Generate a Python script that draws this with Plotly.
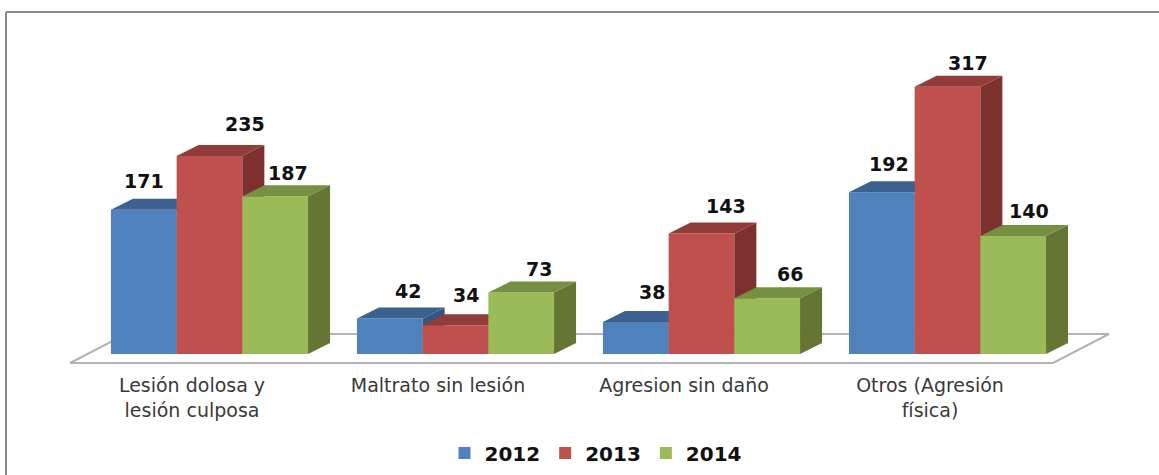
import plotly.graph_objects as go

categories = ["Lesión dolosa y<br>lesión culposa", "Maltrato sin lesión", "Agresion sin daño", "Otros (Agresión<br>física)"]
years = ["2012", "2013", "2014"]
v2012 = [171, 42, 38, 192]
v2013 = [235, 34, 143, 317]
v2014 = [187, 73, 66, 140]
series = [v2012, v2013, v2014]
front_colors = ["#4F81BD", "#C0504D", "#9BBB59"]
top_colors = ["#3C618F", "#923C3A", "#769041"]
side_colors = ["#355680", "#7E302E", "#647534"]

W, H = 1159, 475
PX_PER_GROUP = 246.0
PX_PER_VALUE = 0.843
ORIGIN_PX = 192.0
BASE_PX = 354.0
AXIS_BOTTOM_PX = 372.0
BAR_W = 65.7 / PX_PER_GROUP
SHIFT = 17.5 / PX_PER_GROUP
DX = 22 / PX_PER_GROUP
DY = 11 / PX_PER_VALUE
FLOOR_FRONT = -9 / PX_PER_VALUE
FLOOR_BACK = 20 / PX_PER_VALUE

# label offsets in pixels from the bar's top centre
label_dx = [[0, 35, 13], [18, 10, 18], [16, 24, 23], [7, 20, 16]]
label_dy = [[29, 32, 23], [28, 30, 23], [30, 27, 24], [28, 24, 25]]

fig = go.Figure()

# floor, on the lowest subplot so every bar covers it
fx = [x / PX_PER_GROUP for x in (70 - ORIGIN_PX, 1053 - ORIGIN_PX, 1109 - ORIGIN_PX, 126 - ORIGIN_PX, 70 - ORIGIN_PX)]
fy = [FLOOR_FRONT, FLOOR_FRONT, FLOOR_BACK, FLOOR_BACK, FLOOR_FRONT]
fig.add_trace(go.Scatter(x=fx, y=fy, mode="lines", line=dict(color="#B4B4B4", width=2),
                         showlegend=False, hoverinfo="skip", xaxis="x", yaxis="y"))

for s, vals in enumerate(series):
    xa, ya = f"x{s + 2}", f"y{s + 2}"
    centers = [g + SHIFT + (s - 1) * BAR_W for g in range(len(categories))]
    fig.add_trace(go.Bar(x=centers, y=vals, width=BAR_W, name=years[s], marker=dict(color=front_colors[s], line=dict(width=0)),
                         xaxis=xa, yaxis=ya, hoverinfo="y"))
    for c, v in zip(centers, vals):
        L, R = c - BAR_W / 2, c + BAR_W / 2
        fig.add_trace(go.Scatter(x=[R, R + DX, R + DX, R, R], y=[0, DY, v + DY, v, 0], mode="lines", fill="toself",
                                 fillcolor=side_colors[s], line=dict(width=0), showlegend=False,
                                 hoverinfo="skip", xaxis=xa, yaxis=ya))
        fig.add_trace(go.Scatter(x=[L, L + DX, R + DX, R, L], y=[v, v + DY, v + DY, v, v], mode="lines", fill="toself",
                                 fillcolor=top_colors[s], line=dict(width=0), showlegend=False,
                                 hoverinfo="skip", xaxis=xa, yaxis=ya))
    for g, (c, v) in enumerate(zip(centers, vals)):
        fig.add_annotation(x=c, y=v, text=str(v), showarrow=False, xref="x", yref="y",
                           xshift=label_dx[g][s], yshift=label_dy[g][s],
                           font=dict(family="DejaVu Sans", size=19, color="#111111", weight="bold"))

xrange_ = [-ORIGIN_PX / PX_PER_GROUP, (W - ORIGIN_PX) / PX_PER_GROUP]
yrange_ = [-(AXIS_BOTTOM_PX - BASE_PX) / PX_PER_VALUE, BASE_PX / PX_PER_VALUE]
dom = [1 - AXIS_BOTTOM_PX / H, 1]

layout = dict(
    width=W, height=H, margin=dict(l=0, r=0, t=0, b=0), autosize=False,
    paper_bgcolor="white", plot_bgcolor="rgba(0,0,0,0)", barmode="overlay",
    xaxis=dict(range=xrange_, tickmode="array", tickvals=list(range(len(categories))), ticktext=categories,
               showgrid=False, zeroline=False, showline=False, ticks="", domain=[0, 1],
               tickfont=dict(family="DejaVu Sans", size=19, color="#3A3A3A")),
    yaxis=dict(range=yrange_, domain=dom, visible=False, showgrid=False, zeroline=False),
    legend=dict(orientation="h", x=596 / W, xanchor="center", y=1 - 453 / H, yanchor="middle",
                font=dict(family="DejaVu Sans", size=20, color="#111111", weight="bold"),
                itemclick=False, itemdoubleclick=False),
    shapes=[
        dict(type="line", xref="paper", yref="paper", x0=6 / W, x1=6 / W, y0=0, y1=1 - 12 / H, line=dict(color="#8A8A8A", width=2)),
        dict(type="line", xref="paper", yref="paper", x0=6 / W, x1=1, y0=1 - 12 / H, y1=1 - 12 / H, line=dict(color="#8A8A8A", width=2)),
    ],
)
for s in (2, 3, 4):
    layout[f"xaxis{s}"] = dict(range=xrange_, overlaying="x", matches="x", visible=False, domain=[0, 1])
    layout[f"yaxis{s}"] = dict(range=yrange_, overlaying="y", matches="y", visible=False, domain=dom)
fig.update_layout(**layout)
fig.write_html("out.html", config=dict(displayModeBar=False),
               post_script="document.body.style.margin='0';")
